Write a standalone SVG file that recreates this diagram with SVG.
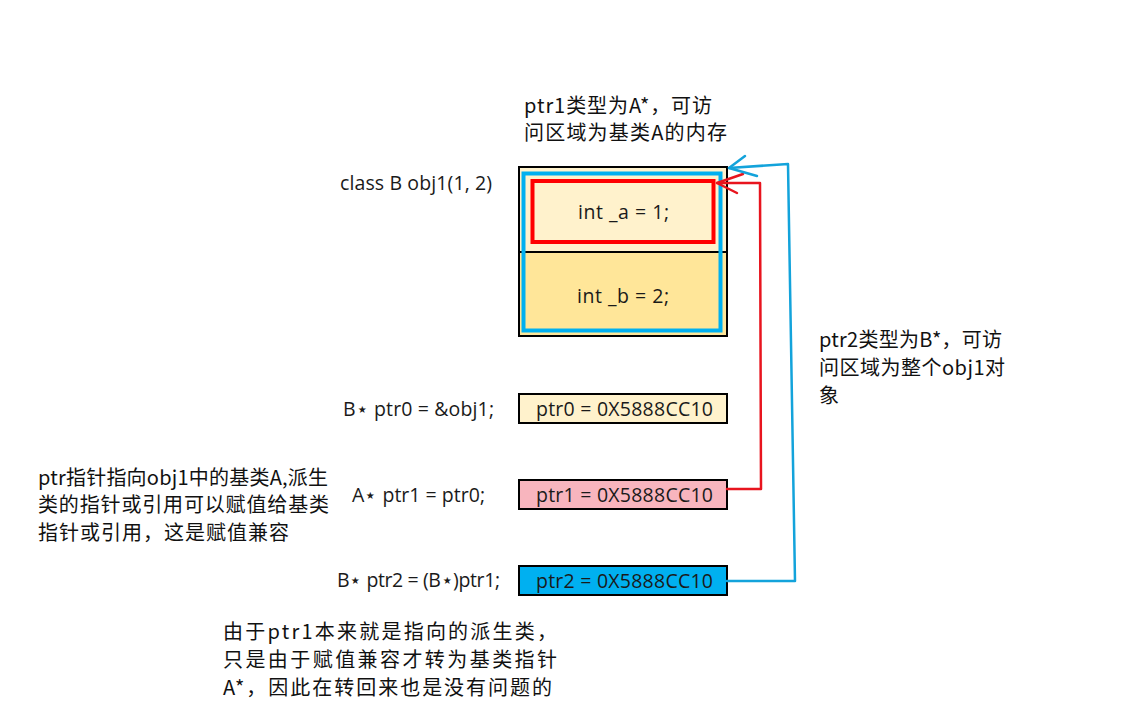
<svg xmlns="http://www.w3.org/2000/svg" width="1145" height="725" viewBox="0 0 1145 725">
<style>
.code{font-family:"Open Sans","Noto Sans",sans-serif;font-size:19.5px;fill:#1a1a1a}
.note{font-family:"Noto Sans CJK SC",sans-serif;font-size:20px;fill:#111}
.box{stroke:#000;stroke-width:2}
.red{fill:none;stroke:#E8141E;stroke-width:2.5;stroke-linecap:round;stroke-linejoin:round}
.blue{fill:none;stroke:#13A3DB;stroke-width:2.5;stroke-linecap:round;stroke-linejoin:round}
</style>
<rect width="1145" height="725" fill="#fff"/>
<g id="obj1">
<rect x="519" y="167" width="208" height="85" fill="#FFF2CC" class="box"/>
<rect x="519" y="252" width="208" height="84" fill="#FFE699" class="box"/>
<rect x="523.5" y="173.5" width="197" height="157" fill="none" stroke="#00B0F0" stroke-width="4"/>
<rect x="532.5" y="181" width="181" height="61" fill="none" stroke="#FF0000" stroke-width="4"/>
<text class="code" x="578" y="219" textLength="91" lengthAdjust="spacing">int _a = 1;</text>
<text class="code" x="577" y="303" textLength="92" lengthAdjust="spacing">int _b = 2;</text>
</g>
<g id="label-obj1"><text class="code" x="340" y="190" textLength="152" lengthAdjust="spacing">class B obj1(1, 2)</text></g>
<g id="ptr0">
<rect x="519" y="394" width="208" height="29" fill="#FFF2CC" class="box"/>
<text class="code" x="536" y="416" textLength="177" lengthAdjust="spacing">ptr0 = 0X5888CC10</text>
<text class="code" x="343" y="416" textLength="151" lengthAdjust="spacing">B⋆ ptr0 = &amp;obj1;</text>
</g>
<g id="ptr1">
<rect x="519" y="480" width="208" height="29" fill="#F8B5BE" class="box"/>
<text class="code" x="536" y="502" textLength="177" lengthAdjust="spacing">ptr1 = 0X5888CC10</text>
<text class="code" x="352" y="502" textLength="133" lengthAdjust="spacing">A⋆ ptr1 = ptr0;</text>
</g>
<g id="ptr2">
<rect x="519" y="566" width="208" height="29" fill="#00B0F0" class="box"/>
<text class="code" x="536" y="588" textLength="177" lengthAdjust="spacing">ptr2 = 0X5888CC10</text>
<text class="code" x="337" y="587" textLength="163" lengthAdjust="spacing">B⋆ ptr2 = (B⋆)ptr1;</text>
</g>
<g id="connectors">
<polyline class="red" points="727,489 761,489 760,183 717,183"/>
<polyline class="red" points="743,174 717,183 737,193"/>
<polyline class="blue" points="727,581 795,581 788,164 729,168"/>
<polyline class="blue" points="745,156 729,168 757,176"/>
</g>
<g id="note-ptr1">
<text class="note" x="524" y="113" textLength="188" lengthAdjust="spacing">ptr1类型为A*，可访</text>
<text class="note" x="524" y="140" textLength="203" lengthAdjust="spacing">问区域为基类A的内存</text>
</g>
<g id="note-ptr2">
<text class="note" x="819" y="347" textLength="183" lengthAdjust="spacing">ptr2类型为B*，可访</text>
<text class="note" x="819" y="375" textLength="186" lengthAdjust="spacing">问区域为整个obj1对</text>
<text class="note" x="819" y="403">象</text>
</g>
<g id="note-left">
<text class="note" x="38" y="485" textLength="290" lengthAdjust="spacing">ptr指针指向obj1中的基类A,派生</text>
<text class="note" x="38" y="512" textLength="291" lengthAdjust="spacing">类的指针或引用可以赋值给基类</text>
<text class="note" x="38" y="540" textLength="251" lengthAdjust="spacing">指针或引用，这是赋值兼容</text>
</g>
<g id="note-bottom">
<text class="note" x="223" y="639" textLength="334" lengthAdjust="spacing">由于ptr1本来就是指向的派生类，</text>
<text class="note" x="223" y="667" textLength="334" lengthAdjust="spacing">只是由于赋值兼容才转为基类指针</text>
<text class="note" x="223" y="695" textLength="329" lengthAdjust="spacing">A*，因此在转回来也是没有问题的</text>
</g>
</svg>
